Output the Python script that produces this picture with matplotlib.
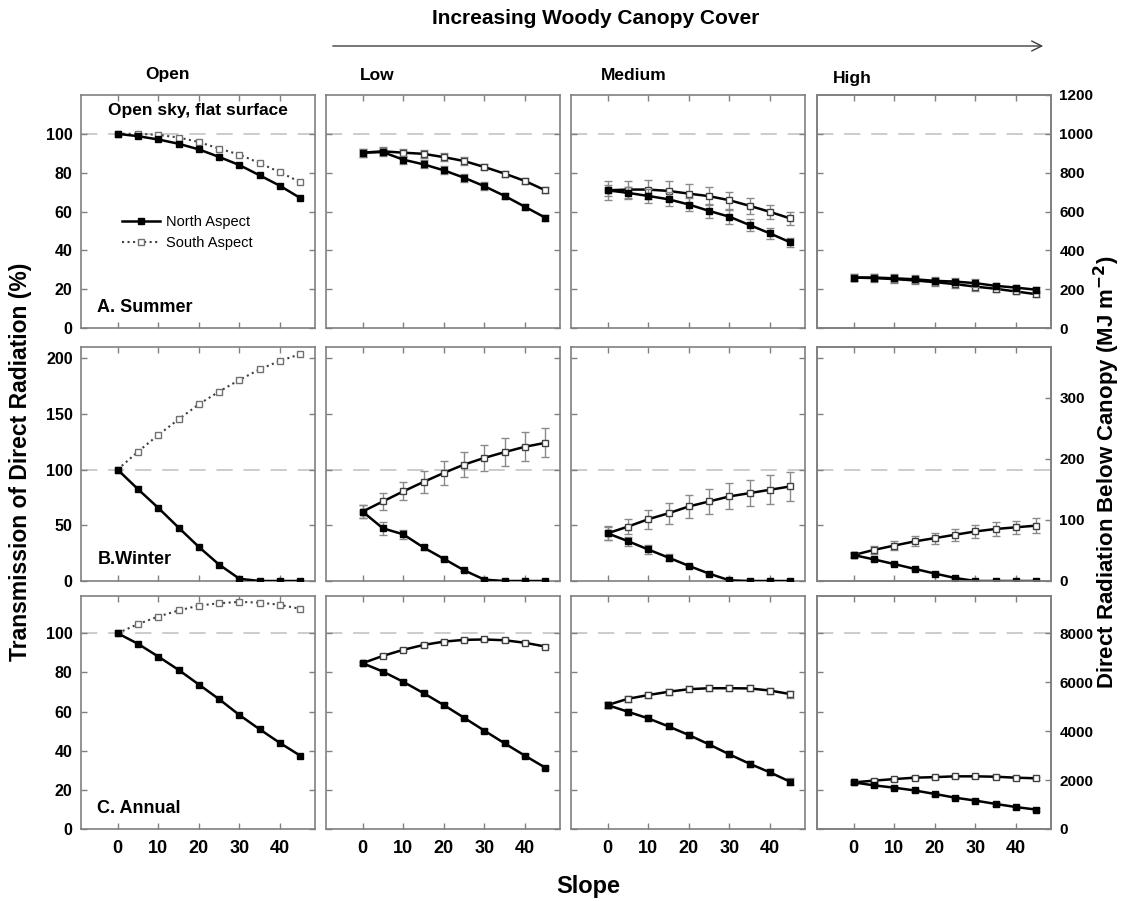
import numpy as np
import matplotlib
matplotlib.use("Agg")
import matplotlib.pyplot as plt
from matplotlib.patches import FancyArrowPatch

plt.rcParams['font.family'] = ['Liberation Sans', 'DejaVu Sans']
plt.rcParams['mathtext.default'] = 'bf'

slope = [0, 5, 10, 15, 20, 25, 30, 35, 40, 45]

# transmission (%) - summer
summer_open_n = [100, 98.8, 97.1, 94.9, 92, 88.1, 83.9, 78.6, 73.2, 66.9]
summer_open_s = [100, 100, 99.5, 98.1, 95.8, 92.4, 89.3, 84.9, 80.2, 75.1]
summer_low_n = [90.3, 90.6, 86.7, 84.3, 81.2, 77.4, 73, 68, 62.4, 56.8]
summer_low_s = [90.3, 91, 90.3, 89.7, 88, 86, 82.9, 79.5, 75.7, 70.9]
summer_med_n = [70.9, 69.6, 68, 66.3, 63.6, 60.3, 57.3, 53, 48.7, 44.1]
summer_med_s = [70.9, 71.3, 71.3, 70.6, 69.2, 67.9, 65.8, 62.9, 59.8, 56.4]
summer_high_n = [26, 26, 25.6, 25.1, 24.3, 23.9, 23.1, 21.7, 20.8, 19.7]
summer_high_s = [26, 25.7, 25.2, 24.5, 23.6, 22.6, 21.3, 20.2, 18.8, 17.4]

# transmission (%) - winter
winter_open_n = [100, 82.5, 65.7, 48, 30.6, 14.7, 2, 0, 0, 0]
winter_open_s = [100, 116, 131, 145, 158.6, 170, 180.5, 190, 197.6, 203.6]
winter_low_n = [62.3, 47.3, 41.9, 30.1, 19.9, 9.6, 1.2, 0, 0, 0]
winter_low_s = [62.3, 71.4, 80.4, 88.9, 97, 104.5, 110.5, 115.7, 120.5, 124]
winter_med_n = [42.8, 35.8, 28.3, 21, 13.6, 6.6, 0.6, 0, 0, 0]
winter_med_s = [42.8, 48.8, 55.4, 60.8, 66.9, 71.4, 75.9, 78.9, 81.9, 84.9]
winter_high_n = [23.3, 19.4, 15.2, 10.9, 6.7, 2.7, 0, 0, 0, 0]
winter_high_s = [23.3, 27.9, 31.8, 35.5, 38.5, 41.5, 44.5, 46.7, 48.2, 49.7]

# transmission (%) - annual
annual_open_n = [100, 94.6, 88.1, 81.3, 73.8, 66.3, 58.2, 50.9, 43.9, 37.4]
annual_open_s = [100, 104.6, 108.5, 111.6, 114.1, 115.3, 116, 115.6, 114.5, 112.4]
annual_low_n = [84.7, 80.4, 75.2, 69.4, 63.3, 56.8, 50.2, 43.7, 37.4, 31.3]
annual_low_s = [84.7, 88.4, 91.5, 94, 95.7, 96.6, 96.8, 96.4, 95.1, 93.2]
annual_med_n = [63.3, 59.9, 56.5, 52.4, 48, 43.2, 38.1, 33.3, 28.9, 24.1]
annual_med_s = [63.3, 66.5, 68.4, 70.1, 71.4, 71.9, 71.9, 71.8, 70.7, 68.9]
annual_high_n = [23.8, 22.3, 21.1, 19.7, 17.9, 16, 14.5, 12.8, 11.2, 9.9]
annual_high_s = [23.8, 24.7, 25.5, 26.2, 26.5, 26.9, 26.9, 26.7, 26.2, 25.9]

# error bars (%)
summer_low_err_n = [2, 2, 2, 2, 2, 2, 2, 1.5, 1.5, 1.5]
summer_low_err_s = [2, 2, 2, 2, 2, 2, 1.5, 1.5, 1.5, 1.5]
summer_med_err_n = [3, 3, 3.5, 3.5, 3.5, 3.5, 3.5, 3, 3, 2.5]
summer_med_err_s = [4.8, 4.5, 5, 5, 5, 4.8, 4.3, 4, 3.8, 3.5]
summer_high_err_n = [2, 2, 2, 2, 2, 2, 2, 1.5, 1.5, 1.5]
summer_high_err_s = [2, 2, 2, 2, 2, 2, 2, 1.5, 1.5, 1.5]
winter_low_err_n = [6, 6, 4, 2, 1, 1, 0.5, 0, 0, 0]
winter_low_err_s = [6, 7.5, 8, 9.5, 10.5, 11.5, 12, 12.5, 13, 13]
winter_med_err_n = [6, 4, 4, 3, 1, 1, 0.5, 0, 0, 0]
winter_med_err_s = [6.3, 7, 8.7, 9.6, 10.5, 11.3, 11.7, 12, 12.8, 13.1]
winter_high_err_n = [2, 1.5, 1, 1, 1, 0.5, 0, 0, 0, 0]
winter_high_err_s = [3, 3.5, 4, 4.5, 5, 5.5, 6, 6, 6, 6.5]
annual_low_err = [0.8, 0.8, 0.8, 0.8, 0.8, 0.8, 0.8, 0.8, 0.8, 0.8]
annual_med_err = [1.5, 1.5, 1.5, 1.5, 1.5, 1.5, 1.5, 1.5, 1.5, 1.8]
annual_high_err = [0.8, 0.8, 0.8, 0.8, 0.8, 0.8, 0.8, 0.8, 0.8, 0.8]

col_titles = ["Open", "Low", "Medium", "High"]
row_labels = ["A. Summer", "B.Winter", "C. Annual"]

panels = [
    [(summer_open_n, summer_open_s, None, None),
     (summer_low_n, summer_low_s, summer_low_err_n, summer_low_err_s),
     (summer_med_n, summer_med_s, summer_med_err_n, summer_med_err_s),
     (summer_high_n, summer_high_s, summer_high_err_n, summer_high_err_s)],
    [(winter_open_n, winter_open_s, None, None),
     (winter_low_n, winter_low_s, winter_low_err_n, winter_low_err_s),
     (winter_med_n, winter_med_s, winter_med_err_n, winter_med_err_s),
     (winter_high_n, winter_high_s, winter_high_err_n, winter_high_err_s)],
    [(annual_open_n, annual_open_s, None, None),
     (annual_low_n, annual_low_s, annual_low_err, annual_low_err),
     (annual_med_n, annual_med_s, annual_med_err, annual_med_err),
     (annual_high_n, annual_high_s, annual_high_err, annual_high_err)],
]

left_ylim = [(0, 120), (0, 210), (0, 119)]
left_ticks = [[0, 20, 40, 60, 80, 100], [0, 50, 100, 150, 200], [0, 20, 40, 60, 80, 100]]
right_ylim = [(0, 1200), (0, 383), (0, 9520)]
right_ticks = [[0, 200, 400, 600, 800, 1000, 1200], [0, 100, 200, 300],
               [0, 2000, 4000, 6000, 8000]]

W, H = 1129, 901
fig = plt.figure(figsize=(W / 100, H / 100), dpi=100)

col_x = [81, 326, 571, 817]
row_y = [(95, 328), (347, 581), (596, 829)]
pw = 234

spine_col = "#808080"

for r in range(3):
    for c in range(4):
        y0, y1 = row_y[r]
        ax = fig.add_axes([col_x[c] / W, 1 - y1 / H, pw / W, (y1 - y0) / H])
        n, s, en, es = panels[r][c]

        ax.axhline(100, color="#c8c8c8", lw=1.3, dashes=(9, 6), zorder=1)

        if c == 0:
            ax.plot(slope, s, ls=":", color="#404040", lw=1.5, marker="s", ms=5,
                    mfc="white", mec="#707070", mew=1, label="South Aspect", zorder=3)
            ax.plot(slope, n, ls="-", color="black", lw=1.8, marker="s", ms=5,
                    mfc="black", mec="black", label="North Aspect", zorder=4)
        else:
            ax.errorbar(slope, s, yerr=es, color="black", lw=1.8, marker="s", ms=5,
                        mfc="white", mec="#404040", mew=1, ecolor="#8a8a8a",
                        elinewidth=1, capsize=3, zorder=3)
            ax.errorbar(slope, n, yerr=en, color="black", lw=1.8, marker="s", ms=5,
                        mfc="black", mec="black", ecolor="#8a8a8a",
                        elinewidth=1, capsize=3, zorder=4)

        ax.set_xlim(-9, 48.6)
        ax.set_ylim(*left_ylim[r])
        ax.set_xticks([0, 10, 20, 30, 40])
        ax.set_yticks(left_ticks[r])
        ax.tick_params(direction="in", top=True, right=(c != 3), length=4,
                       color=spine_col, width=1)
        for sp in ax.spines.values():
            sp.set_color(spine_col)
            sp.set_linewidth(1.2)

        if r == 2:
            for lab in ax.get_xticklabels():
                lab.set_fontsize(13)
                lab.set_fontweight("bold")
            ax.tick_params(axis="x", pad=8)
        else:
            ax.set_xticklabels([])
        if c == 0:
            for lab in ax.get_yticklabels():
                lab.set_fontsize(11.5)
                lab.set_fontweight("bold")
            ax.tick_params(axis="y", pad=6)
        else:
            ax.set_yticklabels([])

        if c == 3:
            ax2 = ax.twinx()
            ax2.set_ylim(*right_ylim[r])
            ax2.set_yticks(right_ticks[r])
            ax2.tick_params(direction="in", length=4, color=spine_col, width=1, pad=6)
            for lab in ax2.get_yticklabels():
                lab.set_fontsize(11)
                lab.set_fontweight("bold")
            for sp in ax2.spines.values():
                sp.set_color(spine_col)
                sp.set_linewidth(1.2)

        if c == 0:
            ax.text(0.07, 0.09, row_labels[r], transform=ax.transAxes,
                    fontsize=13, fontweight="bold", va="center", ha="left")
            if r == 0:
                ax.text(0.5, 0.935, "Open sky, flat surface", transform=ax.transAxes,
                        fontsize=12.5, fontweight="bold", va="center", ha="center")
                h, l = ax.get_legend_handles_labels()
                ax.legend(h[::-1], l[::-1], loc="upper left", bbox_to_anchor=(0.12, 0.54),
                          frameon=False, fontsize=10.5, handlelength=2.6,
                          labelspacing=0.45, handletextpad=0.4)

# column titles
title_pos = [(167, 75), (377, 75), (634, 75), (852, 78)]
for t, (px, py) in zip(col_titles, title_pos):
    fig.text(px / W, 1 - py / H, t, fontsize=12.5, fontweight="bold",
             ha="center", va="center")

fig.text(596 / W, 1 - 18 / H, "Increasing Woody Canopy Cover", fontsize=15,
         fontweight="bold", ha="center", va="center")
arrow = FancyArrowPatch((330 / W, 1 - 46 / H), (1046 / W, 1 - 46 / H),
                        transform=fig.transFigure, arrowstyle="->", mutation_scale=18,
                        color="#404040", lw=1)
fig.add_artist(arrow)

fig.text(21 / W, 1 - 462 / H, "Transmission of Direct Radiation (%)", rotation=90,
         fontsize=16.5, fontweight="bold", ha="center", va="center")
fig.text(1107 / W, 1 - 472 / H, "Direct Radiation Below Canopy (MJ m$^{-2}$)",
         rotation=90, fontsize=16, fontweight="bold", ha="center", va="center")
fig.text(588 / W, 1 - 887 / H, "Slope", fontsize=17, fontweight="bold",
         ha="center", va="center")

fig.savefig("out.png", dpi=100)
